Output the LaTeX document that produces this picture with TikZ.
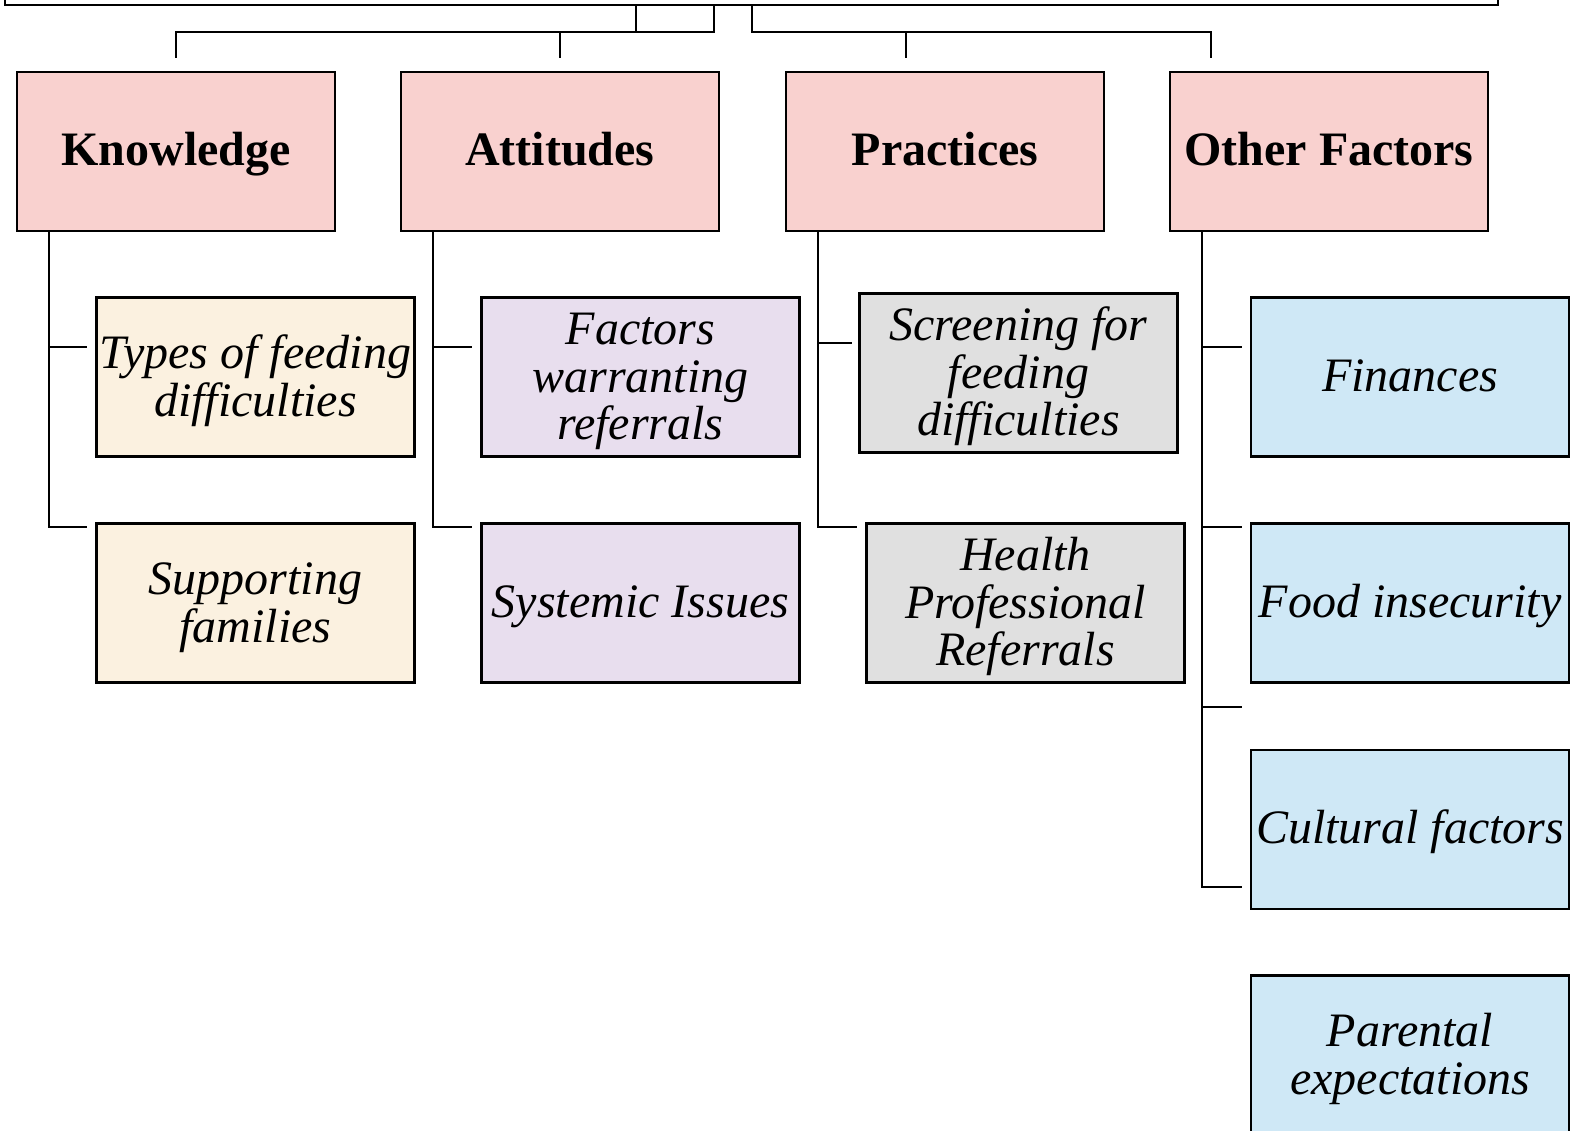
\documentclass[tikz,border=0pt]{standalone}
\usepackage{fontspec}
\setmainfont{Liberation Serif}
\usetikzlibrary{calc}
\definecolor{pinkc}{RGB}{249,209,207}
\definecolor{creamc}{RGB}{251,241,224}
\definecolor{lavc}{RGB}{232,222,238}
\definecolor{greyc}{RGB}{224,224,224}
\definecolor{bluec}{RGB}{207,232,246}
\newcommand\mytopstrut{\rule{0pt}{41pt}}
\tikzset{
  conn/.style={draw=black, line width=2.9pt, line join=miter},
  box/.style={draw=black, line width=2.9pt, rectangle, minimum width=318pt, minimum height=159pt, inner sep=0pt, outer sep=0pt, align=center},
  headbox/.style={box, fill=pinkc, text height=36pt, text depth=8pt, font=\bfseries\fontsize{48}{48}\selectfont},
  subbox/.style={box, font=\itshape\fontsize{48}{47.5}\selectfont},
  oneline/.style={text height=36pt, text depth=8pt},
}
\begin{document}
\begin{tikzpicture}[x=1pt, y=-1pt]
\useasboundingbox (0,0) rectangle (1570,1130);
\clip (0,0) rectangle (1570,1130);

% root (cut off at top)
\node[draw=black, line width=2.9pt, fill=white, minimum width=1493pt, minimum height=110pt, inner sep=0pt, outer sep=0pt] (root) at (751.5,-50) {};

% heading boxes
\node[headbox] (know) at (176,151.5) {Knowledge};
\node[headbox] (att)  at (560,151.5) {Attitudes};
\node[headbox] (prac) at (945,151.5) {Practices};
\node[headbox] (oth)  at (1329,151.5) {Other Factors};

% sub boxes
\node[subbox, fill=creamc] (types) at (255.5,377) {\mytopstrut Types of feeding\\difficulties};
\node[subbox, fill=creamc] (supp)  at (255.5,603) {\mytopstrut Supporting\\families};
\node[subbox, fill=lavc] (fact) at (640.5,377) {\mytopstrut Factors\\warranting\\referrals};
\node[subbox, oneline, fill=lavc] (syst) at (640.5,603) {Systemic Issues};
\node[subbox, fill=greyc] (scr) at (1018.5,373) {\mytopstrut Screening for\\feeding\\difficulties};
\node[subbox, fill=greyc] (hpr) at (1025.5,603) {\mytopstrut Health\\Professional\\Referrals};
\node[subbox, oneline, fill=bluec] (fin)  at (1410,377) {Finances};
\node[subbox, oneline, fill=bluec] (food) at (1410,603) {Food insecurity};
\node[subbox, oneline, fill=bluec] (cult) at (1410,829.5) {Cultural factors};
\node[subbox, fill=bluec] (par)  at (1410,1055) {\mytopstrut Parental\\expectations};

% top connectors
\coordinate (h1) at (636,32);
\coordinate (h2) at (714,32);
\coordinate (h3) at (752,32);
\coordinate (kdrop) at (176,58);
\coordinate (adrop) at (560,58);
\coordinate (pdrop) at (906,58);
\coordinate (odrop) at (1211,58);
\draw[conn] (root.south -| h1) -- (h1);
\draw[conn] (root.south -| h2) -- (h2) -| (kdrop);
\draw[conn] (adrop |- h2) -- (adrop);
\draw[conn] (root.south -| h3) -- (h3) -| (odrop);
\draw[conn] (pdrop |- h3) -- (pdrop);

% Knowledge branches
\coordinate (ks) at ($(know.south west)+(32,0)$);
\coordinate (kb1) at (87,347);
\coordinate (kb2) at (87,527);
\draw[conn] (ks) |- (kb1);
\draw[conn] (ks) |- (kb2);

% Attitudes branches
\coordinate (as) at ($(att.south west)+(32,0)$);
\coordinate (ab1) at (472,347);
\coordinate (ab2) at (472,527);
\draw[conn] (as) |- (ab1);
\draw[conn] (as) |- (ab2);

% Practices branches
\coordinate (ps) at ($(prac.south west)+(32,0)$);
\coordinate (pb1) at (852,343);
\coordinate (pb2) at (857,527);
\draw[conn] (ps) |- (pb1);
\draw[conn] (ps) |- (pb2);

% Other factors branches
\coordinate (os) at ($(oth.south west)+(32,0)$);
\coordinate (ob1) at (1242,347);
\coordinate (ob2) at (1242,527);
\coordinate (ob3) at (1242,707);
\coordinate (ob4) at (1242,887);
\draw[conn] (os) |- (ob1);
\draw[conn] (os) |- (ob2);
\draw[conn] (os) |- (ob3);
\draw[conn] (os) |- (ob4);
\end{tikzpicture}
\end{document}
